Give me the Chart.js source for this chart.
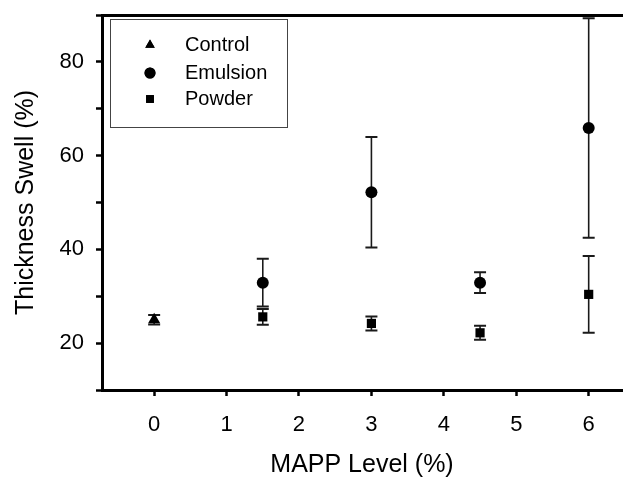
<!DOCTYPE html>
<html>
<head>
<meta charset="utf-8">
<script src="https://cdn.jsdelivr.net/npm/chart.js@4/dist/chart.umd.min.js"></script>
<style>
html,body{margin:0;padding:0;background:#fff;}
#c{display:block;}
</style>
</head>
<body>
<canvas id="c" width="629" height="483"></canvas>
<script>
// ---- data ----
const controlX = [0];
const controlY = [25.0];
const controlErr = [1.0];

const emulsionX = [1.5, 3, 4.5, 6];
const emulsionY = [32.9, 52.2, 32.9, 65.9];
const emulsionErr = [5.1, 11.8, 2.2, 23.4];

const powderX = [1.5, 3, 4.5, 6];
const powderY = [25.6, 24.2, 22.2, 30.4];
const powderErr = [1.7, 1.5, 1.5, 8.2];

const seriesLabels = ['Control', 'Emulsion', 'Powder'];
const xTitle = 'MAPP Level (%)';
const yTitle = 'Thickness Swell (%)';
const yLabelTicks = [20, 40, 60, 80];

const FONT = '"Liberation Sans", Arial, Helvetica, sans-serif';

function pts(xs, ys) { return xs.map((x, i) => ({x: x, y: ys[i]})); }

const errorBars = {
  id: 'errorBars',
  beforeDatasetsDraw(chart) {
    const ctx = chart.ctx;
    const xs = chart.scales.x, ys = chart.scales.y;
    ctx.save();
    chart.data.datasets.forEach(ds => {
      if (!ds.errors) return;
      ds.data.forEach((p, i) => {
        const e = ds.errors[i];
        const px = xs.getPixelForValue(p.x);
        const yT = ys.getPixelForValue(p.y + e);
        const yB = ys.getPixelForValue(p.y - e);
        ctx.strokeStyle = '#1a1a1a';
        ctx.lineWidth = 1.6;
        ctx.beginPath();
        ctx.moveTo(px, yT); ctx.lineTo(px, yB);
        ctx.stroke();
        ctx.lineWidth = 2;
        ctx.beginPath();
        ctx.moveTo(px - 6, yT); ctx.lineTo(px + 6, yT);
        ctx.moveTo(px - 6, yB); ctx.lineTo(px + 6, yB);
        ctx.stroke();
      });
    });
    ctx.restore();
  }
};

const boxLegend = {
  id: 'boxLegend',
  afterDraw(chart) {
    const ctx = chart.ctx;
    const a = chart.chartArea;
    const bx = a.left + 8, by = a.top + 4, bw = 177, bh = 108;
    ctx.save();
    ctx.strokeStyle = '#444';
    ctx.lineWidth = 1;
    ctx.strokeRect(bx + 0.5, by + 0.5, bw, bh);
    ctx.font = '20px ' + FONT;
    ctx.fillStyle = '#000';
    ctx.textBaseline = 'middle';
    const rows = [26, 54, 80];
    chart.data.datasets.forEach((ds, i) => {
      const cy = by + rows[i];
      Chart.helpers.drawPoint(ctx, {pointStyle: ds.pointStyle, radius: 5.5, borderWidth: 0}, bx + 40, cy);
      ctx.fillStyle = '#000';
      ctx.fill();
      ctx.fillText(ds.label, bx + 75, cy);
    });
    ctx.restore();
  }
};

const common = {
  showLine: false,
  backgroundColor: '#000',
  borderColor: '#000',
  pointBackgroundColor: '#000',
  pointBorderColor: '#000',
  pointBorderWidth: 0,
};

function noPad(s) { s.paddingTop = 0; s.paddingBottom = 0; s.paddingLeft = 0; s.paddingRight = 0; }

new Chart(document.getElementById('c'), {
  type: 'scatter',
  data: {
    datasets: [
      Object.assign({}, common, {label: seriesLabels[0], data: pts(controlX, controlY), errors: controlErr, pointStyle: 'triangle', pointRadius: 7}),
      Object.assign({}, common, {label: seriesLabels[1], data: pts(emulsionX, emulsionY), errors: emulsionErr, pointStyle: 'circle', pointRadius: 6}),
      Object.assign({}, common, {label: seriesLabels[2], data: pts(powderX, powderY), errors: powderErr, pointStyle: 'rect', pointRadius: 6.5})
    ]
  },
  options: {
    responsive: false,
    animation: false,
    events: [],
    layout: {padding: 0},
    plugins: {legend: {display: false}, tooltip: {enabled: false}},
    scales: {
      x: {
        type: 'linear', position: 'bottom',
        min: -0.72, max: 6.46,
        afterFit(s) { s.height = 93; noPad(s); },
        border: {display: true, color: '#000', width: 3},
        grid: {drawOnChartArea: false, drawTicks: true, tickLength: 6, tickWidth: 2.5, tickColor: '#000'},
        ticks: {stepSize: 1, includeBounds: false, autoSkip: false, maxRotation: 0, padding: 16, color: '#000',
          font: {family: FONT, size: 22}, callback: v => String(v)},
        title: {display: true, text: xTitle, color: '#000', font: {family: FONT, size: 25}, padding: {top: 0, bottom: 3}}
      },
      xTop: {
        type: 'linear', position: 'top',
        min: -0.72, max: 6.46,
        afterFit(s) { s.height = 15; noPad(s); },
        border: {display: true, color: '#000', width: 3},
        grid: {display: false},
        ticks: {display: false}
      },
      y: {
        type: 'linear', position: 'left',
        min: 10, max: 90,
        afterFit(s) { s.width = 102; noPad(s); },
        border: {display: true, color: '#000', width: 3},
        grid: {drawOnChartArea: false, drawTicks: true, tickLength: 6, tickWidth: 2.5, tickColor: '#000'},
        ticks: {stepSize: 10, includeBounds: false, autoSkip: false, padding: 12, color: '#000',
          font: {family: FONT, size: 22},
          callback: v => (yLabelTicks.includes(v) ? String(v) : '')},
        title: {display: true, text: yTitle, color: '#000', font: {family: FONT, size: 25}, padding: {top: 11, bottom: 0}}
      }
    }
  },
  plugins: [errorBars, boxLegend]
});
</script>
</body>
</html>
